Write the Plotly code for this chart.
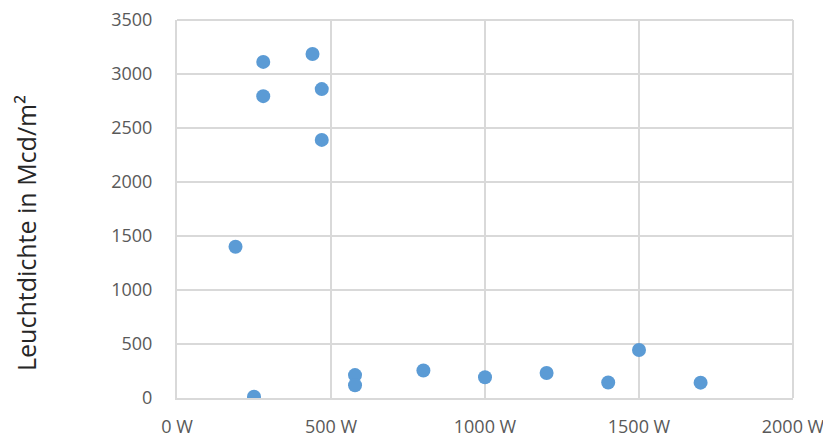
import plotly.graph_objects as go

power_w = [190, 250, 280, 280, 440, 470, 470, 578, 578, 800, 1000, 1200, 1400, 1500, 1700]
luminance = [1400, 12, 3112, 2795, 3185, 2860, 2390, 212, 118, 255, 192, 232, 144, 444, 142]
x_ticks = [0, 500, 1000, 1500, 2000]
x_tick_labels = ["0 W", "500 W", "1000 W", "1500 W", "2000 W"]
y_ticks = [0, 500, 1000, 1500, 2000, 2500, 3000, 3500]
y_title = "Leuchtdichte in Mcd/m²"

fig = go.Figure()
fig.add_trace(go.Scatter(
    x=power_w, y=luminance, mode="markers",
    marker=dict(size=14, color="#5B9BD5", line=dict(width=0)),
    showlegend=False,
))

grid = "#D9D9D9"
fig.update_layout(
    width=823, height=431,
    margin=dict(l=169, r=38, t=12, b=41, autoexpand=False),
    paper_bgcolor="white", plot_bgcolor="white",
    font=dict(family="Open Sans, Noto Sans, sans-serif", size=18, color="#595959"),
    xaxis=dict(
        range=[0, 2000], tickvals=x_ticks, ticktext=x_tick_labels,
        showgrid=True, gridcolor=grid, gridwidth=2,
        zeroline=False, showline=True, linecolor=grid, linewidth=2,
        ticks="", ticklabelstandoff=11, automargin=False,
        ticklabeloverflow="allow",
    ),
    yaxis=dict(
        range=[0, 3500], tickvals=y_ticks,
        showgrid=True, gridcolor=grid, gridwidth=2,
        zeroline=False, showline=True, linecolor=grid, linewidth=2,
        ticks="", ticklabelstandoff=19, automargin=False,
        ticklabeloverflow="allow",
    ),
)
fig.add_annotation(
    text=y_title, xref="paper", yref="paper",
    x=-(177 - 26) / 616, y=(398 - 233) / 378, xanchor="center", yanchor="middle",
    textangle=-90, showarrow=False,
    font=dict(size=25, color="#262626"),
)
fig.add_shape(type="line", xref="paper", yref="paper", x0=1, x1=1, y0=0, y1=1,
              line=dict(color=grid, width=2))
fig.add_shape(type="line", xref="paper", yref="paper", x0=0, x1=1, y0=1, y1=1,
              line=dict(color=grid, width=2))

fig.write_html("out.html")
